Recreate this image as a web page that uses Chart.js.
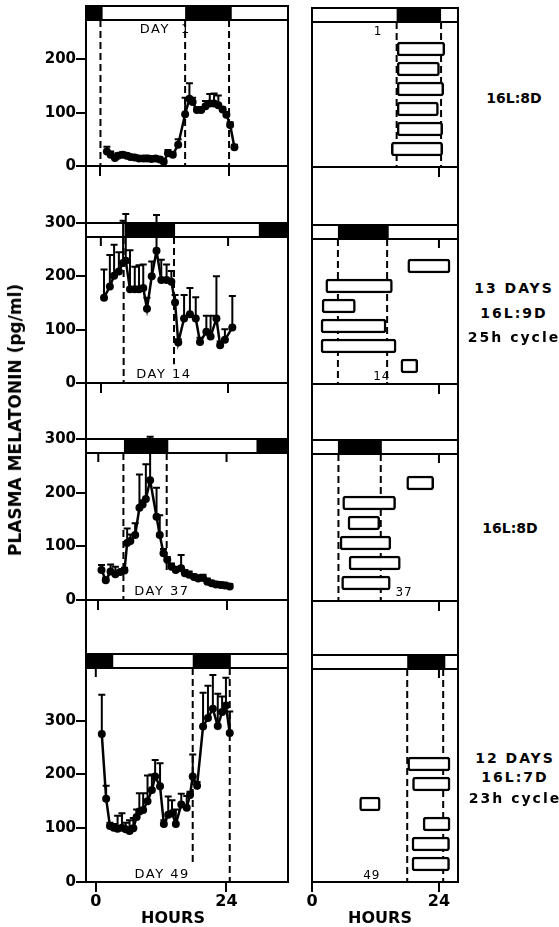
<!DOCTYPE html>
<html>
<head>
<meta charset="utf-8">
<script src="https://cdn.jsdelivr.net/npm/chart.js@4.4.1/dist/chart.umd.min.js"></script>
<style>
  body { margin: 0; background: #fff; }
  #fig { position: relative; width: 559px; height: 927px; overflow: hidden; font-family: "DejaVu Sans", sans-serif; color: #000; }
  #fig canvas { position: absolute; }
  .col { position: absolute; box-sizing: border-box; border-left: 2px solid #000; border-right: 2px solid #000; }
  .lbl { position: absolute; font-weight: bold; font-size: 14px; white-space: nowrap; transform: translate(-50%, -50%); }
  .wide { letter-spacing: 2px; }
  .hours { font-size: 16px; }
  .ytitle { position: absolute; left: 15px; top: 420px; font-weight: bold; font-size: 17px; white-space: nowrap; transform: translate(-50%, -50%) rotate(-90deg); }
</style>
</head>
<body>
<div id="fig">
  <div class="col" style="left:85px; top:6px; width:204px; height:876px"></div>
  <div class="col" style="left:311px; top:8px; width:148px; height:874px"></div>

  <canvas id="l1" width="300" height="184" style="left:0; top:-4px"></canvas>
  <canvas id="l2" width="300" height="184" style="left:0; top:213px"></canvas>
  <canvas id="l3" width="300" height="185" style="left:0; top:429px"></canvas>
  <canvas id="l4" width="300" height="283" style="left:0; top:644px"></canvas>

  <canvas id="r1" width="170" height="183" style="left:300px; top:-2px"></canvas>
  <canvas id="r2" width="170" height="183" style="left:300px; top:215px"></canvas>
  <canvas id="r3" width="170" height="185" style="left:300px; top:430px"></canvas>
  <canvas id="r4" width="170" height="282" style="left:300px; top:645px"></canvas>

  <div class="ytitle">PLASMA MELATONIN (pg/ml)</div>

  <div class="lbl" style="left:514px; top:98px">16L:8D</div>
  <div class="lbl wide" style="left:514px; top:288px">13 DAYS</div>
  <div class="lbl wide" style="left:514px; top:313px">16L:9D</div>
  <div class="lbl wide" style="left:514px; top:337px">25h cycle</div>
  <div class="lbl" style="left:510px; top:528px">16L:8D</div>
  <div class="lbl wide" style="left:515px; top:758px">12 DAYS</div>
  <div class="lbl wide" style="left:515px; top:777px">16L:7D</div>
  <div class="lbl wide" style="left:515px; top:798px">23h cycle</div>

  <div class="lbl hours" style="left:173px; top:917px">HOURS</div>
  <div class="lbl hours" style="left:380px; top:917px">HOURS</div>
</div>

<script>
Chart.defaults.font.family = '"DejaVu Sans", sans-serif';
Chart.defaults.font.weight = 'bold';
Chart.defaults.font.size = 15;
Chart.defaults.color = '#000';

// mean melatonin (pg/ml) and mean + SEM, sampled through each day
const day1Hours = [1.2, 1.9, 2.7, 3.3, 4.1, 4.9, 5.6, 6.4, 7.2, 8.0, 8.7, 9.5, 10.3, 11.1, 11.8, 12.6, 13.5, 14.5, 15.8, 16.6, 17.2, 18.0, 18.8, 19.6, 20.4, 21.2, 22.0, 22.8, 23.5, 24.2, 25.0];
const day1Mean  = [27, 21, 15, 19, 21, 19, 17, 16, 14, 14, 14, 13, 14, 12, 8, 24, 21, 40, 97, 126, 120, 105, 105, 112, 117, 117, 114, 106, 96, 77, 35];
const day1Upper = [36, 27, 20, 24, 26, 24, 21, 20, 18, 18, 19, 18, 18, 16, 12, 30, 26, 50, 128, 155, 128, 110, 110, 122, 135, 136, 132, 110, 100, 82, 40];

const day14Hours = [0.6, 1.7, 2.5, 3.4, 4.2, 4.7, 5.5, 6.4, 7.2, 8.0, 8.7, 9.6, 10.5, 11.4, 12.4, 13.3, 14.0, 14.6, 15.7, 16.8, 17.9, 18.7, 19.9, 20.7, 21.8, 22.5, 23.4, 24.8];
const day14Mean  = [160, 181, 201, 209, 225, 229, 176, 176, 176, 178, 139, 200, 248, 193, 193, 190, 151, 76, 121, 129, 121, 77, 96, 87, 121, 71, 81, 104];
const day14Upper = [213, 240, 259, 245, 304, 317, 249, 218, 221, 222, 160, 228, 315, 231, 222, 210, 165, 82, 165, 178, 161, 85, 126, 126, 200, 78, 101, 163];

const day37Hours = [0.6, 1.4, 2.3, 3.2, 4.1, 4.9, 5.4, 6.0, 6.9, 7.7, 8.3, 8.9, 9.7, 10.9, 11.5, 12.2, 12.9, 13.7, 14.5, 15.5, 16.2, 17.0, 17.9, 18.7, 19.6, 20.4, 21.2, 22.0, 22.9, 23.7, 24.6];
const day37Mean  = [56, 37, 53, 48, 52, 55, 106, 110, 121, 172, 178, 188, 223, 155, 121, 87, 75, 62, 56, 59, 50, 47, 43, 40, 41, 34, 31, 29, 28, 27, 25];
const day37Upper = [65, 42, 66, 62, 56, 60, 133, 122, 143, 234, 186, 253, 304, 209, 158, 95, 80, 68, 62, 84, 56, 53, 48, 46, 47, 40, 36, 34, 33, 32, 30];

const day49Hours = [1.1, 1.9, 2.6, 3.3, 4.0, 4.8, 5.5, 6.2, 6.9, 7.5, 8.0, 8.7, 9.5, 10.3, 10.9, 11.8, 12.5, 13.3, 14.0, 14.7, 15.7, 16.7, 17.3, 17.8, 18.6, 19.7, 20.6, 21.5, 22.4, 23.2, 23.9, 24.6];
const day49Mean  = [275, 155, 104, 101, 99, 101, 98, 95, 100, 121, 131, 134, 150, 171, 196, 178, 108, 125, 128, 108, 144, 138, 162, 196, 179, 289, 305, 322, 290, 316, 328, 277];
const day49Upper = [348, 179, 110, 108, 123, 128, 110, 115, 119, 135, 165, 165, 198, 200, 227, 221, 115, 159, 152, 135, 164, 160, 168, 237, 186, 352, 365, 385, 350, 345, 380, 317];

// lights-off intervals (hours) for each record
const darkDay1  = [[-5, 0.4], [15.8, 24.5]];
const darkDay14 = [[4.5, 14.0], [29.8, 40]];
const darkDay37 = [[4.8, 13.1], [29.6, 40]];
const darkDay49 = [[-5, 3.2], [17.8, 24.8]];
const darkRight1  = [[16.0, 24.4]];
const darkRight14 = [[4.9, 14.5]];
const darkRight37 = [[4.9, 13.2]];
const darkRight49 = [[18.0, 25.2]];

// daily elevated intervals, start/end hour, one row per day
const bandRows = [6, 5, 4, 3, 2, 1];
const spansDay1  = [[16.1, 25.1], [16.1, 24.1], [16.1, 24.9], [16.1, 23.9], [16.1, 24.7], [15.0, 24.7]];
const spansDay14 = [[18.1, 26.1], [2.6, 15.2], [1.9, 8.2], [1.7, 14.0], [1.7, 15.9], [16.8, 20.0]];
const spansDay37 = [[17.9, 23.0], [5.8, 15.8], [6.8, 12.8], [5.3, 14.9], [7.0, 16.7], [5.6, 14.8]];
const spansDay49 = [[18.1, 26.1], [19.0, 26.1], [9.0, 12.9], [21.0, 26.1], [18.9, 26.0], [18.9, 26.0]];

const hourTicks = [0, 24];
const melTicksTop = [0, 100, 200];
const melTicks = [0, 100, 200, 300];

const STRIP = 14;

function decor(cfg) {
  return {
    id: 'decor',
    beforeDatasetsDraw(chart) {
      const {ctx, chartArea: a, scales: {x, y}} = chart;
      const sb = a.top + STRIP;
      ctx.save();
      ctx.beginPath();
      ctx.rect(a.left, a.top, a.width, a.height);
      ctx.clip();
      ctx.fillStyle = '#fff';
      ctx.fillRect(a.left, a.top, a.width, STRIP);
      ctx.fillStyle = '#000';
      cfg.dark.forEach(([s, e]) => {
        const x0 = x.getPixelForValue(s), x1 = x.getPixelForValue(e);
        ctx.fillRect(x0, a.top, x1 - x0, STRIP);
      });
      ctx.restore();

      ctx.save();
      ctx.strokeStyle = '#000';
      ctx.lineWidth = 2;
      ctx.beginPath();
      ctx.moveTo(a.left, sb);
      ctx.lineTo(a.right, sb);
      cfg.ticks.forEach(h => {
        const px = x.getPixelForValue(h);
        ctx.moveTo(px, sb);
        ctx.lineTo(px, sb + 9);
      });
      ctx.stroke();

      // light/dark transitions
      ctx.lineWidth = 2;
      ctx.setLineDash([7, 4]);
      ctx.beginPath();
      cfg.dashes.forEach(([h, low]) => {
        const px = x.getPixelForValue(h);
        ctx.moveTo(px, sb);
        ctx.lineTo(px, low === undefined ? a.bottom : y.getPixelForValue(low));
      });
      ctx.stroke();
      ctx.setLineDash([]);

      // SEM whiskers, upper side only
      if (cfg.upper) {
        ctx.lineWidth = 2;
        ctx.beginPath();
        chart.data.datasets[0].data.forEach((p, i) => {
          const px = x.getPixelForValue(p.x);
          const py = y.getPixelForValue(p.y);
          const pu = y.getPixelForValue(cfg.upper[i]);
          ctx.moveTo(px, py);
          ctx.lineTo(px, pu);
          ctx.moveTo(px - 3.5, pu);
          ctx.lineTo(px + 3.5, pu);
        });
        ctx.stroke();
      }

      const lb = cfg.label;
      ctx.font = lb.font;
      ctx.letterSpacing = lb.spacing;
      ctx.fillStyle = '#000';
      ctx.textAlign = 'center';
      ctx.textBaseline = 'middle';
      const ly = lb.from === 'top' ? sb + lb.gap : a.bottom - lb.gap;
      ctx.fillText(lb.text, x.getPixelForValue(lb.hour), ly);
      ctx.restore();
    },
    afterDraw(chart) {
      const {ctx, chartArea: a} = chart;
      ctx.save();
      ctx.strokeStyle = '#000';
      ctx.lineWidth = 2;
      ctx.strokeRect(a.left, a.top, a.width, a.height);
      ctx.restore();
    }
  };
}

function tickGrid() {
  return {drawOnChartArea: false, tickLength: 10, color: '#000', lineWidth: 2};
}

function leftPanel(id, hours, mean, upper, yMax, yTicks, xRange, deco, bottom) {
  deco.upper = upper;
  new Chart(document.getElementById(id), {
    type: 'line',
    data: {
      datasets: [{
        data: hours.map((h, i) => ({x: h, y: mean[i]})),
        borderColor: '#000',
        borderWidth: 2.5,
        pointRadius: 4,
        pointBackgroundColor: '#000',
        pointBorderWidth: 0,
        tension: 0,
        clip: false
      }]
    },
    options: {
      responsive: false,
      animation: false,
      layout: {padding: {top: 10, right: 12, left: 0, bottom: 0}},
      plugins: {legend: {display: false}, tooltip: {enabled: false}},
      scales: {
        x: {
          type: 'linear', min: xRange[0], max: xRange[1],
          afterBuildTicks: s => { s.ticks = hourTicks.map(v => ({value: v})); },
          afterFit: s => { s.height = bottom ? 45 : 14; },
          grid: tickGrid(),
          border: {display: false},
          ticks: {display: bottom, padding: 0, font: {size: 16}}
        },
        y: {
          type: 'linear', min: 0, max: yMax,
          afterBuildTicks: s => { s.ticks = yTicks.map(v => ({value: v})); },
          afterFit: s => { s.width = 86; },
          grid: tickGrid(),
          border: {display: false},
          ticks: {padding: 0}
        }
      }
    },
    plugins: [decor(deco)]
  });
}

function rightPanel(id, spans, rowMax, xTicks, deco, bottom) {
  new Chart(document.getElementById(id), {
    type: 'bar',
    data: {
      datasets: [{
        data: spans.map((s, i) => ({x: s, y: bandRows[i]})),
        backgroundColor: '#fff',
        borderColor: '#000',
        borderWidth: 2.5,
        borderSkipped: false,
        borderRadius: 3,
        barThickness: 14
      }]
    },
    options: {
      indexAxis: 'y',
      responsive: false,
      animation: false,
      layout: {padding: {top: 10, right: 12, left: 12, bottom: 0}},
      plugins: {legend: {display: false}, tooltip: {enabled: false}},
      scales: {
        x: {
          type: 'linear', min: 0, max: 27.6,
          afterBuildTicks: s => { s.ticks = xTicks.map(v => ({value: v})); },
          afterFit: s => { s.height = bottom ? 45 : 14; },
          grid: tickGrid(),
          border: {display: false},
          ticks: {display: bottom, padding: 0, font: {size: 16}}
        },
        y: {
          type: 'linear', min: 0.1, max: rowMax, offset: false,
          grid: {offset: false},
          display: false
        }
      }
    },
    plugins: [decor(deco)]
  });
}

const dayFont = 'normal 13px "DejaVu Sans"';
const numFont = 'normal 12px "DejaVu Sans"';

leftPanel('l1', day1Hours, day1Mean, day1Upper, 300, melTicksTop, [-2.7, 35.0], {
  dark: darkDay1, ticks: [], dashes: [[0, 0], [15.8, 0], [24, 0]],
  label: {text: 'DAY  1', hour: 12.1, from: 'top', gap: 10, font: dayFont, spacing: '1.5px'}
}, false);
leftPanel('l2', day14Hours, day14Mean, day14Upper, 300, melTicks, [-2.8, 35.3], {
  dark: darkDay14, ticks: [0, 24], dashes: [[4.3, 0], [13.8, 35]],
  label: {text: 'DAY 14', hour: 11.9, from: 'bottom', gap: 8, font: dayFont, spacing: '1.5px'}
}, false);
leftPanel('l3', day37Hours, day37Mean, day37Upper, 300, melTicks, [-2.3, 35.5], {
  dark: darkDay37, ticks: [0, 24], dashes: [[4.7, 0], [12.8, 55]],
  label: {text: 'DAY 37', hour: 11.9, from: 'bottom', gap: 8.5, font: dayFont, spacing: '1.5px'}
}, false);
leftPanel('l4', day49Hours, day49Mean, day49Upper, 424, melTicks, [-1.8, 35.3], {
  dark: darkDay49, ticks: [0], dashes: [[17.8, 30], [24.6, 0]],
  label: {text: 'DAY 49', hour: 12.2, from: 'bottom', gap: 7, font: dayFont, spacing: '1.5px'}
}, true);

rightPanel('r1', spansDay1, 0.1 + 159 / 20, [24], {
  dark: darkRight1, ticks: [], dashes: [[16.0], [24.4]],
  label: {text: '1', hour: 12.5, from: 'top', gap: 10, font: numFont, spacing: '1px'}
}, false);
rightPanel('r2', spansDay14, 0.1 + 159 / 20, [24], {
  dark: darkRight14, ticks: [24], dashes: [[4.9], [14.2]],
  label: {text: '14', hour: 13.2, from: 'bottom', gap: 7.5, font: numFont, spacing: '1px'}
}, false);
rightPanel('r3', spansDay37, 0.1 + 161 / 20, [24], {
  dark: darkRight37, ticks: [24], dashes: [[5.0], [13.0]],
  label: {text: '37', hour: 17.4, from: 'bottom', gap: 8.5, font: numFont, spacing: '1px'}
}, false);
rightPanel('r4', spansDay49, 0.1 + 227 / 20, [0, 24], {
  dark: darkRight49, ticks: [24], dashes: [[18.0], [24.8]],
  label: {text: '49', hour: 11.3, from: 'bottom', gap: 6, font: numFont, spacing: '1px'}
}, true);
</script>
</body>
</html>
